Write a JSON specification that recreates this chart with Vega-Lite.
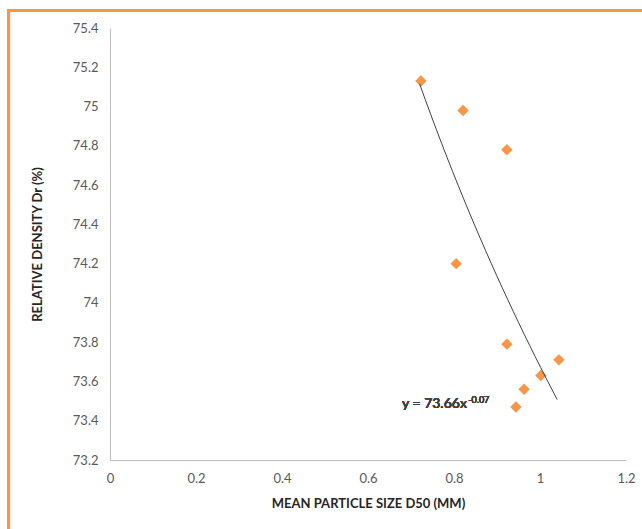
{
  "$schema": "https://vega.github.io/schema/vega-lite/v6.json",
  "width": 516,
  "height": 432,
  "autosize": {"type": "none"},
  "padding": {"left": 110, "top": 28, "right": 16, "bottom": 69},
  "background": "#ffffff",
  "config": {
    "view": {"stroke": null},
    "font": "Lato",
    "axis": {
      "grid": false, "ticks": false, "labelOverlap": false, "labelFlush": false, "labelBound": false,
      "domainColor": "#BFBFBF", "domainWidth": 1,
      "labelFont": "Lato", "labelFontSize": 13, "labelColor": "#595959", "labelPadding": 12,
      "titleFont": "Lato", "titleFontSize": 13, "titleFontWeight": "bold", "titleColor": "#262626"
    },
    "axisX": {"titlePadding": 12},
    "axisY": {"titlePadding": 28}
  },
  "data": {
    "values": [
      {"d50": 0.723, "dr": 75.13},
      {"d50": 0.821, "dr": 74.98},
      {"d50": 0.923, "dr": 74.78},
      {"d50": 0.805, "dr": 74.20},
      {"d50": 0.923, "dr": 73.79},
      {"d50": 1.044, "dr": 73.71},
      {"d50": 1.002, "dr": 73.63},
      {"d50": 0.963, "dr": 73.56},
      {"d50": 0.944, "dr": 73.47}
    ]
  },
  "resolve": {"axis": {"x": "independent", "y": "independent"}},
  "layer": [
    {
      "mark": {"type": "point", "shape": "diamond", "filled": true, "size": 130, "color": "#F79646", "opacity": 1},
      "encoding": {
        "x": {
          "field": "d50", "type": "quantitative",
          "scale": {"domain": [0, 1.2], "nice": false, "zero": false},
          "axis": {
            "title": "MEAN PARTICLE SIZE D50 (MM)",
            "values": [0, 0.2, 0.4, 0.6, 0.8, 1, 1.2],
            "format": "~g",
            "labelOverlap": false
          }
        },
        "y": {
          "field": "dr", "type": "quantitative",
          "scale": {"domain": [73.2, 75.4], "nice": false, "zero": false},
          "axis": {
            "title": "RELATIVE DENSITY Dr (%)",
            "values": [73.2, 73.4, 73.6, 73.8, 74, 74.2, 74.4, 74.6, 74.8, 75, 75.2, 75.4],
            "format": "~g",
            "labelOverlap": false
          }
        }
      }
    },
    {
      "transform": [
        {"regression": "dr", "on": "d50", "method": "pow", "extent": [0.72, 1.04]}
      ],
      "mark": {"type": "line", "color": "#404040", "strokeWidth": 1},
      "encoding": {
        "x": {"field": "d50", "type": "quantitative", "axis": null},
        "y": {"field": "dr", "type": "quantitative", "axis": null}
      }
    },
    {
      "mark": {"type": "text", "align": "left", "baseline": "alphabetic", "font": "Lato", "fontSize": 14, "fontWeight": "normal", "color": "#404040"},
      "encoding": {
        "x": {"datum": 0.679, "axis": null},
        "y": {"datum": 73.465, "axis": null},
        "text": {"value": "y = 73.66x"}
      }
    },
    {
      "mark": {"type": "text", "align": "left", "baseline": "alphabetic", "font": "Lato", "fontSize": 9, "fontWeight": "normal", "color": "#404040"},
      "encoding": {
        "x": {"datum": 0.833, "axis": null},
        "y": {"datum": 73.491, "axis": null},
        "text": {"value": "-0.07"}
      }
    },
    {
      "mark": {"type": "rule", "color": "#F79646", "strokeWidth": 3},
      "encoding": {
        "x": {"datum": -0.236, "axis": null},
        "y": {"datum": 75.489, "axis": null},
        "y2": {"datum": 72.79}
      }
    },
    {
      "mark": {"type": "rule", "color": "#F79646", "strokeWidth": 3},
      "encoding": {
        "x": {"datum": -0.239, "axis": null},
        "x2": {"datum": 1.3},
        "y": {"datum": 75.489, "axis": null}
      }
    }
  ]
}
